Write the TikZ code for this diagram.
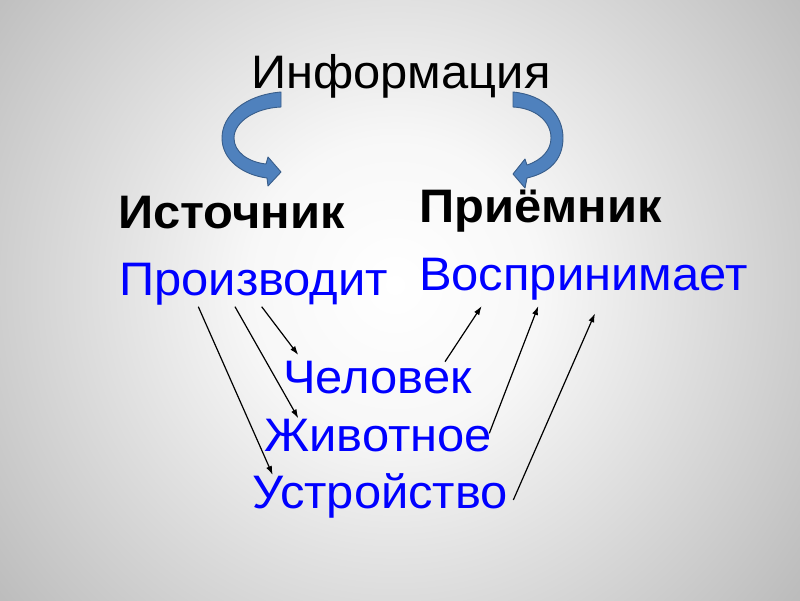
\documentclass[tikz,border=0pt]{standalone}
\usepackage{fontspec}
\setmainfont{Liberation Sans}[FakeStretch=1.04]
\usetikzlibrary{arrows.meta}
\definecolor{arrowblue}{RGB}{79,129,189}
\definecolor{arrowedge}{RGB}{56,93,138}
\definecolor{txtblue}{RGB}{0,0,255}
\pgfdeclareradialshading{bgshade}{\pgfpoint{0bp}{0bp}}{color(0bp)=(white); color(7bp)=(black!3); color(25bp)=(black!27); color(50bp)=(black!42)}
\tikzset{
  heading/.style={inner sep=0pt, anchor=base west, font=\fontsize{47}{52}\selectfont},
  bighead/.style={inner sep=0pt, anchor=base west, font=\fontsize{47}{52}\selectfont\bfseries},
  bluetext/.style={inner sep=0pt, anchor=base west, text=txtblue, font=\fontsize{47}{52}\selectfont},
  link/.style={line width=1.2pt, -{Latex[length=9pt,width=6pt]}},
  bandarrow/.style={fill=arrowblue, draw=arrowedge, line width=0.9pt, line join=round}
}
\begin{document}
\begin{tikzpicture}[x=1pt,y=-1pt]
\useasboundingbox (0,0) rectangle (800,600);
\begin{scope}
\clip (0,0) rectangle (800,600);
\shade[shading=bgshade] (-125,-235) rectangle (915,805);
\end{scope}

% texts
\node[heading] (info) at (251,88) {Информация};
\node[bighead] (src) at (118,228) {Источник};
\node[bighead] (rcv) at (419,222) {Приёмник};
\node[bluetext] (prod) at (119,295) {Производит};
\node[bluetext] (perc) at (419,290) {Воспринимает};
\node[bluetext] (man) at (283,393) {Человек};
\node[bluetext] (anim) at (264,451) {Животное};
\node[bluetext] (dev) at (252,508) {Устройство};

% curved block arrows
\path[bandarrow] (281,92) .. controls (245,95) and (222,115) .. (222,138)
  .. controls (222,160) and (243,175) .. (267,178)
  -- (268,186) -- (281,172) -- (268,157) -- (266,164)
  .. controls (248,162) and (234,152) .. (234,138)
  .. controls (234,122) and (255,108) .. (281,107) -- cycle;
\path[bandarrow] (513,92) .. controls (545,95) and (563,115) .. (563,138)
  .. controls (563,160) and (549,173) .. (527,178)
  -- (525,188) -- (513,174) -- (525,159) -- (527,165)
  .. controls (542,160) and (551,150) .. (551,138)
  .. controls (551,121) and (535,108) .. (513,107) -- cycle;

% connector end points
\coordinate (p1) at (261.7,306.7);
\coordinate (p2) at (235,306.7);
\coordinate (p3) at (198.3,306.7);
\coordinate (m1) at (298.3,355);
\coordinate (a1) at (298.3,418.3);
\coordinate (d1) at (272.7,475);
\coordinate (m2) at (445,361.7);
\coordinate (a2) at (489.3,433.3);
\coordinate (d2) at (513.3,500);
\coordinate (r1) at (481.7,306);
\coordinate (r2) at (538.3,306);
\coordinate (r3) at (595,313.3);

\draw[link] (p1) -- (m1);
\draw[link] (p2) -- (a1);
\draw[link] (p3) -- (d1);
\draw[link] (m2) -- (r1);
\draw[link] (a2) -- (r2);
\draw[link] (d2) -- (r3);
\end{tikzpicture}
\end{document}
